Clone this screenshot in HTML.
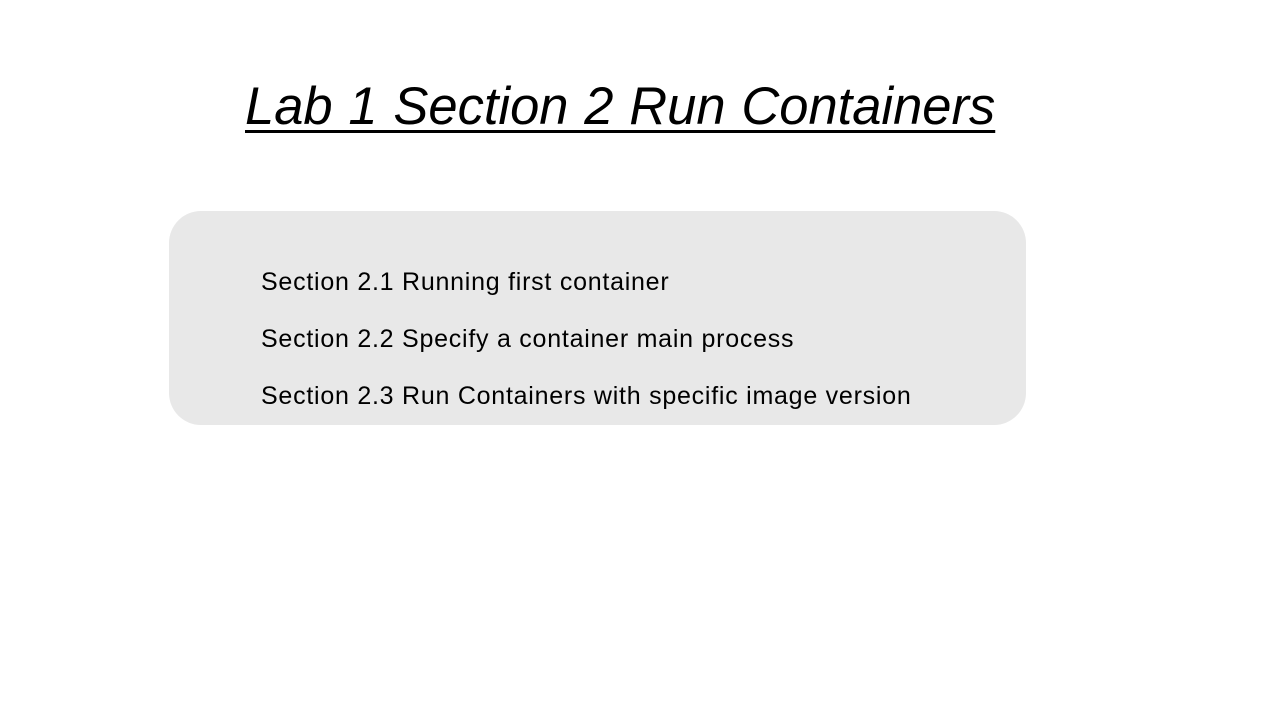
<!DOCTYPE html>
<html><head><meta charset="utf-8"><style>
html,body{margin:0;padding:0;background:#fff;}
body{width:1280px;height:720px;position:relative;overflow:hidden;font-family:"Liberation Sans",sans-serif;}
.title{position:absolute;left:245px;top:76px;font-size:52.5px;font-style:italic;word-spacing:1.2px;text-decoration:underline;text-decoration-thickness:3px;text-underline-offset:6px;color:#000;white-space:nowrap;}
.box{position:absolute;left:169px;top:211px;width:857px;height:214px;border-radius:32px;background:#e8e8e8;}
.line{position:absolute;left:261px;font-size:25px;letter-spacing:0.75px;color:#000;white-space:nowrap;}
</style></head><body>
<div class="title">Lab 1 Section 2 Run Containers</div>
<div class="box"></div>
<div class="line" style="top:268px">Section 2.1 Running first container</div>
<div class="line" style="top:325px">Section 2.2 Specify a container main process</div>
<div class="line" style="top:382px">Section 2.3 Run Containers with specific image version</div>
</body></html>
